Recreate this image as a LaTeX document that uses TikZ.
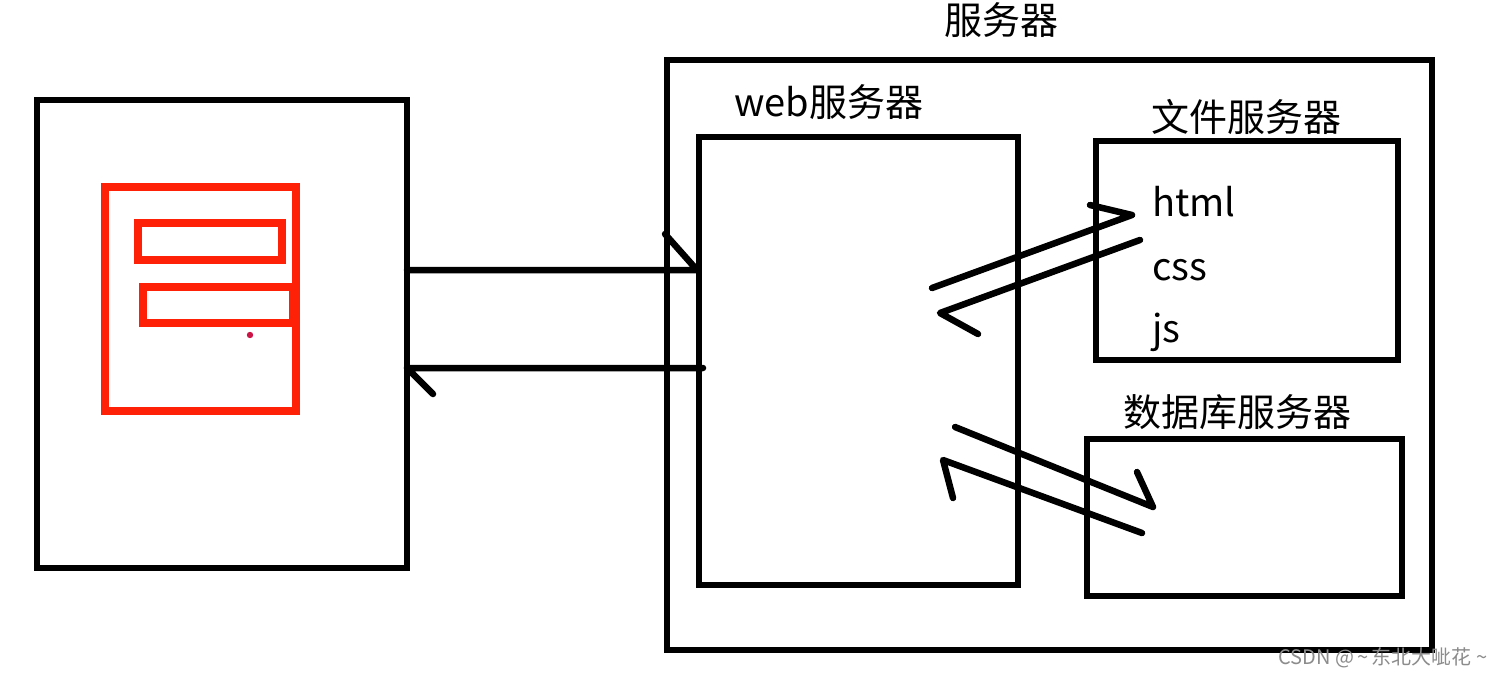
\documentclass[tikz,border=0pt]{standalone}
\usepackage{fontspec}
\setmainfont{Noto Sans CJK SC}
\definecolor{pagered}{RGB}{255,32,8}
\definecolor{dotred}{RGB}{205,20,70}
\begin{document}
\begin{tikzpicture}[x=1pt,y=-1pt,
  box/.style={draw=black,line width=6pt,rectangle,inner sep=0pt,outer sep=0pt},
  redbox/.style={draw=pagered,line width=8pt,rectangle,inner sep=0pt,outer sep=0pt},
  stroke/.style={draw=black,line width=6.5pt,line cap=round,line join=round},
  lbl/.style={font=\fontsize{38}{42}\selectfont,inner sep=0pt},
  wm/.style={font=\fontsize{20}{22}\selectfont,text=black!45,inner sep=0pt}]
\useasboundingbox[fill=white] (0,0) rectangle (1504,677);
% client
\node[box,minimum width=370,minimum height=468] (client) at (222,334) {};
\node[redbox,minimum width=191,minimum height=224] (page) at (200.5,299) {};
\node[redbox,minimum width=144,minimum height=37] (field1) at (210,241.5) {};
\node[redbox,minimum width=150,minimum height=36] (field2) at (218,305) {};
\fill[dotred] (250,335) circle (3.2);
% server
\node[box,minimum width=765,minimum height=590] (server) at (1049.5,355) {};
\node[lbl] (serverlbl) at (1001,20) {服务器};
\node[box,minimum width=319,minimum height=448] (web) at (858.5,361) {};
\node[lbl] (weblbl) at (829,102) {web服务器};
\node[box,minimum width=302,minimum height=219] (file) at (1247,250.5) {};
\node[lbl] (filelbl) at (1246,117) {文件服务器};
\node[lbl,anchor=base west] (html) at (1152,216) {html};
\node[lbl,anchor=base west] (css) at (1152,280) {css};
\node[lbl,anchor=base west] (js) at (1152,342) {js};
\node[box,minimum width=315,minimum height=157] (db) at (1244.5,517.5) {};
\node[lbl] (dblbl) at (1237,412) {数据库服务器};
% connectors
\coordinate (c1a) at (client.east |- 0,270);
\coordinate (c1b) at (697,270);
\coordinate (c1c) at (665,234);
\draw[stroke] (c1a) -- (c1b) -- (c1c);
\coordinate (c2a) at (703,368);
\coordinate (c2b) at (client.east |- 0,368);
\coordinate (c2c) at (433,394);
\draw[stroke] (c2a) -- (c2b) -- (c2c);
\coordinate (f1a) at (932,288);
\coordinate (f1b) at (1132,215);
\coordinate (f1c) at (1090,205);
\draw[stroke] (f1a) -- (f1b) -- (f1c);
\coordinate (f2a) at (1140,240);
\coordinate (f2b) at (940,313);
\coordinate (f2c) at (978,334);
\draw[stroke] (f2a) -- (f2b) -- (f2c);
\coordinate (d1a) at (955,427);
\coordinate (d1b) at (1153,507);
\coordinate (d1c) at (1137,472);
\draw[stroke] (d1a) -- (d1b) -- (d1c);
\coordinate (d2a) at (1142,533);
\coordinate (d2b) at (943,460);
\coordinate (d2c) at (953,498);
\draw[stroke] (d2a) -- (d2b) -- (d2c);
% watermark
\node[wm] (mark) at (1383,658) {CSDN @\,\textasciitilde\,东北大呲花 \textasciitilde};
\end{tikzpicture}
\end{document}
